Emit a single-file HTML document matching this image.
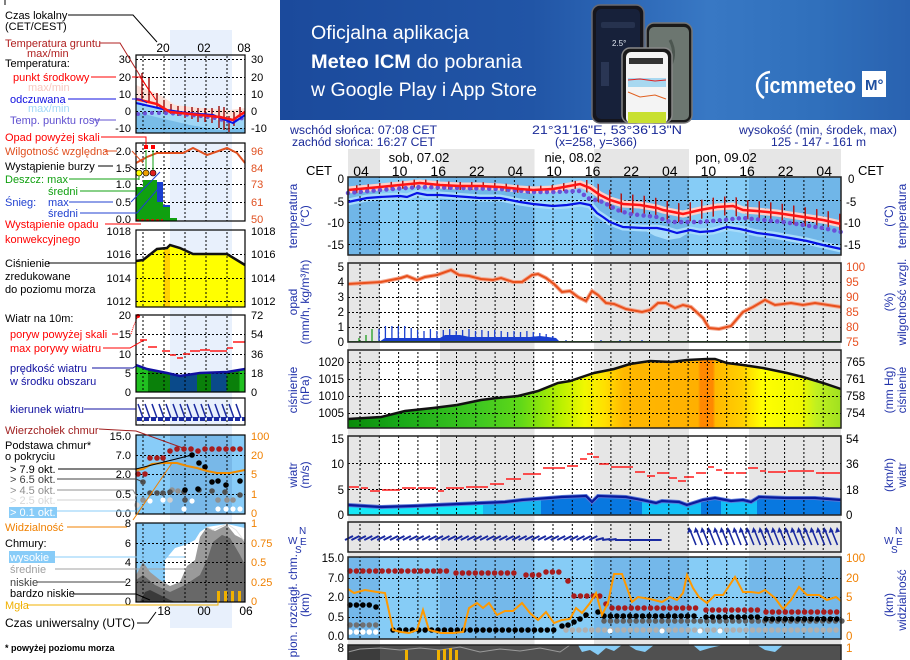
<!DOCTYPE html>
<html><head><meta charset="utf-8"><style>
html,body{margin:0;padding:0;background:#fff;}
svg{display:block;font-family:"Liberation Sans",Arial,sans-serif;}
</style></head><body>
<svg width="910" height="660" viewBox="0 0 910 660" xmlns="http://www.w3.org/2000/svg">
<defs>
<linearGradient id="ban" x1="0" x2="1" y1="0" y2="0">
<stop offset="0" stop-color="#1b4a9c"/><stop offset="0.4" stop-color="#2155a6"/><stop offset="0.68" stop-color="#3878c4"/><stop offset="0.85" stop-color="#3070bc"/><stop offset="1" stop-color="#2962b0"/>
</linearGradient>
<pattern id="vg" x="359.5" y="0" width="19.3" height="4" patternUnits="userSpaceOnUse"><rect width="1" height="2" fill="#000"/></pattern>
<pattern id="vgm" x="142.5" y="0" width="21" height="4" patternUnits="userSpaceOnUse"><rect width="1" height="2" fill="#000"/></pattern>
<pattern id="gt" x="356" y="0" width="11.5" height="10" patternUnits="userSpaceOnUse"><rect width="1.5" height="10" fill="#b01818"/></pattern>
<linearGradient id="pg" gradientUnits="userSpaceOnUse" x1="348" x2="841" y1="0" y2="0">
<stop offset="0" stop-color="#0a8a0a"/><stop offset="0.1" stop-color="#18a818"/><stop offset="0.27" stop-color="#40c820"/><stop offset="0.35" stop-color="#60d818"/><stop offset="0.43" stop-color="#b8f000"/><stop offset="0.48" stop-color="#f0f800"/><stop offset="0.52" stop-color="#ffe000"/><stop offset="0.56" stop-color="#ffb800"/><stop offset="0.71" stop-color="#ffb000"/><stop offset="0.715" stop-color="#ff8800"/><stop offset="0.74" stop-color="#ff8800"/><stop offset="0.745" stop-color="#ffb800"/><stop offset="0.8" stop-color="#ffd000"/><stop offset="0.84" stop-color="#ffff00"/><stop offset="0.92" stop-color="#f0f800"/><stop offset="0.95" stop-color="#c0f020"/><stop offset="1" stop-color="#a0e020"/>
</linearGradient>
<linearGradient id="wg" gradientUnits="userSpaceOnUse" x1="348" x2="841" y1="0" y2="0">
<stop offset="0" stop-color="#16e8f6"/><stop offset="0.274" stop-color="#16e8f6"/>
<stop offset="0.274" stop-color="#18b4ee"/><stop offset="0.391" stop-color="#18b4ee"/>
<stop offset="0.391" stop-color="#0878e0"/><stop offset="0.596" stop-color="#0878e0"/>
<stop offset="0.596" stop-color="#12c0f6"/><stop offset="0.716" stop-color="#12c0f6"/>
<stop offset="0.716" stop-color="#0878e0"/><stop offset="0.757" stop-color="#0878e0"/>
<stop offset="0.757" stop-color="#12c0f6"/><stop offset="0.83" stop-color="#12c0f6"/>
<stop offset="0.83" stop-color="#0878e0"/><stop offset="1" stop-color="#0878e0"/>
</linearGradient>
<linearGradient id="mwg" gradientUnits="userSpaceOnUse" x1="136" x2="245" y1="0" y2="0">
<stop offset="0" stop-color="#20c020"/><stop offset="0.11" stop-color="#20c020"/>
<stop offset="0.11" stop-color="#0a800a"/><stop offset="0.31" stop-color="#0a800a"/>
<stop offset="0.31" stop-color="#0a4a8a"/><stop offset="0.56" stop-color="#0a4a8a"/>
<stop offset="0.56" stop-color="#0a800a"/><stop offset="0.69" stop-color="#0a800a"/>
<stop offset="0.69" stop-color="#0a4a8a"/><stop offset="0.83" stop-color="#0a4a8a"/>
<stop offset="0.83" stop-color="#0a800a"/><stop offset="0.95" stop-color="#0a800a"/>
<stop offset="0.95" stop-color="#20c020"/><stop offset="1" stop-color="#20c020"/>
</linearGradient>
</defs>

<rect width="910" height="660" fill="#fff"/>

<!-- ===== BANNER ===== -->
<rect x="280" y="0" width="630" height="120" fill="url(#ban)"/>
<text x="311" y="39" font-size="19" fill="#fff" textLength="158" lengthAdjust="spacingAndGlyphs">Oficjalna aplikacja</text>
<text x="311" y="68" font-size="19" fill="#fff" textLength="211" lengthAdjust="spacingAndGlyphs"><tspan font-weight="bold">Meteo ICM</tspan> do pobrania</text>
<text x="311" y="96" font-size="19" fill="#fff" textLength="226" lengthAdjust="spacingAndGlyphs">w Google Play i App Store</text>
<rect x="592" y="5" width="52" height="118" rx="8" fill="#15151c" stroke="#6a6a70" stroke-width="1.5"/>
<rect x="596" y="9" width="44" height="110" rx="5" fill="#17213a"/>
<rect x="601" y="22" width="34" height="6" rx="2" fill="#26324e"/>
<text x="612" y="46" font-size="8" fill="#dfe6f0">2.5°</text>
<rect x="601" y="62" width="8" height="24" fill="#2a3654"/>
<rect x="646" y="23" width="46" height="100" rx="8" fill="#1a1a1a" stroke="#777" stroke-width="1.5"/>
<rect x="649" y="27" width="40" height="93" rx="5" fill="#6c7670"/>
<path d="M652,60 q10,10 5,25 t12,20 M670,40 q8,15 -2,30" stroke="#4c5650" stroke-width="3" fill="none"/>
<rect x="622" y="48" width="50" height="75" rx="8" fill="#1a1a1a" stroke="#888" stroke-width="1.5"/>
<rect x="626" y="52" width="42" height="71" rx="5" fill="#f4f4f4"/>
<rect x="629" y="58" width="34" height="6" fill="#333"/>
<rect x="628" y="78" width="38" height="9" fill="#a8d8f0"/>
<path d="M628,80 L640,79 L655,81 L666,80" stroke="#e02020" stroke-width="1" fill="none"/>
<path d="M628,92 L640,97 L655,95 L666,99" stroke="#e06020" stroke-width="1" fill="none"/>
<rect x="628" y="112" width="38" height="11" fill="#c8e030"/>
<path d="M764,98 a14,14 0 0 1 6,-26" stroke="#fff" stroke-width="2.5" fill="none"/>
<text x="764" y="93" font-size="22" font-weight="bold" fill="#fff" textLength="92" lengthAdjust="spacingAndGlyphs">icmmeteo</text>
<rect x="862" y="71" width="24" height="26" fill="#fff"/>
<text x="865" y="90" font-size="15" font-weight="bold" fill="#1e4fa0">M°</text>

<!-- ===== MAIN HEADER ===== -->
<g font-size="11.5" fill="#1a2a98">
<text x="290" y="134" textLength="147" lengthAdjust="spacingAndGlyphs">wschód słońca: 07:08 CET</text>
<text x="292" y="146" textLength="143" lengthAdjust="spacingAndGlyphs">zachód słońca: 16:27 CET</text>
<text x="532" y="134" textLength="150" lengthAdjust="spacingAndGlyphs">21°31'16"E, 53°36'13"N</text>
<text x="555" y="146" textLength="82" lengthAdjust="spacingAndGlyphs">(x=258,  y=366)</text>
<text x="739" y="134" textLength="158" lengthAdjust="spacingAndGlyphs">wysokość (min, środek, max)</text>
<text x="771" y="146" textLength="95" lengthAdjust="spacingAndGlyphs">125 - 147 - 161 m</text>
</g>

<!-- night shading columns -->
<g fill="#e6e6e6">
<rect x="348" y="149" width="32" height="511"/>
<rect x="440" y="149" width="94.5" height="511"/>
<rect x="594" y="149" width="95" height="511"/>
<rect x="749" y="149" width="92" height="511"/>
</g>

<g font-size="13" fill="#000">
<text x="419" y="162" text-anchor="middle">sob, 07.02</text>
<text x="573" y="162" text-anchor="middle">nie, 08.02</text>
<text x="726" y="162" text-anchor="middle">pon, 09.02</text>
<text x="306" y="175">CET</text>
<text x="858" y="175">CET</text>
</g>
<g font-size="14" fill="#000" text-anchor="middle">
<text x="361" y="176">04</text><text x="399.6" y="176">10</text><text x="438.2" y="176">16</text><text x="476.8" y="176">22</text><text x="515.4" y="176">04</text><text x="554" y="176">10</text><text x="592.6" y="176">16</text><text x="631.2" y="176">22</text><text x="669.8" y="176">04</text><text x="708.4" y="176">10</text><text x="747" y="176">16</text><text x="785.6" y="176">22</text><text x="824.2" y="176">04</text>
</g>

<!-- ===== TEMPERATURE PANEL ===== -->
<rect x="348" y="177" width="493" height="78" fill="#86ccf6"/>
<g fill="#70b6e8">
<rect x="348" y="177" width="32" height="78"/><rect x="440" y="177" width="94.5" height="78"/><rect x="594" y="177" width="95" height="78"/><rect x="749" y="177" width="92" height="78"/>
</g>
<polyline fill="none" stroke="#a8dcfa" stroke-width="7" points="348,202 367,198 380,197 400,196 407,197 417,193 427,195 440,195 467,197 480,198 500,198 520,202 533,204 553,206 567,205 580,203 590,205 597,213 603,217 610,222 623,227 643,228 657,228 667,230 677,233 690,230 700,232 713,231 727,227 740,229 757,233 773,235 790,238 807,241 823,245 841,249"/>
<path d="M640,228 L655,236 L668,240 L680,238 L690,232 Z" fill="#a8dcfa"/>
<rect x="348" y="177" width="493" height="78" fill="url(#vg)"/>
<g stroke="#000" stroke-width="1" stroke-dasharray="2 2"><line x1="348" x2="841" y1="200.5" y2="200.5"/><line x1="348" x2="841" y1="222.5" y2="222.5"/><line x1="348" x2="841" y1="244.5" y2="244.5"/></g>
<polyline fill="none" stroke="#ffcfc8" stroke-width="7" points="348,190 380,187 400,185 420,183 440,185 460,186 480,186 500,187 520,189 533,190 553,189 580,184 590,188 600,195 610,200 623,204 640,205 657,208 663,210 673,212 683,214 700,210 717,207 733,206 743,210 757,211 777,213 797,216 823,220 841,224"/>
<polygon fill="url(#gt)" points="348,186 380,183 400,181 420,179 440,181 460,182 480,182 500,183 520,185 533,186 553,185 580,180 592,180 600,185 610,190 623,194 640,195 657,198 663,200 673,202 683,204 700,200 717,197 733,196 743,200 757,201 777,203 797,206 823,210 841,214 841,233 823,229 797,225 777,222 757,220 743,219 733,215 717,216 700,219 683,223 673,221 663,219 657,217 640,214 623,213 610,209 600,204 592,196 580,188 553,193 533,194 520,193 500,191 480,190 460,190 440,189 420,187 400,189 380,191 348,194"/>
<polyline fill="none" stroke="#6a50d8" stroke-width="4.5" stroke-linecap="round" stroke-dasharray="0 6.43" points="348,193 380,190 420,187 460,188 500,189 533,192 553,192 580,191 587,198 603,202 617,210 630,214 657,217 670,222 683,222 700,222 723,220 743,218 763,220 783,222 803,225 823,228 841,232"/>
<polyline fill="none" stroke="#0814e6" stroke-width="2.2" points="348,202 367,198 380,197 400,196 407,197 417,193 427,195 440,195 467,197 480,198 500,198 520,202 533,204 553,206 567,205 580,203 590,205 597,213 603,217 610,222 623,227 643,228 657,228 667,230 677,233 690,230 700,232 713,231 727,227 740,229 757,233 773,235 790,238 807,241 823,245 841,249"/>
<polyline fill="none" stroke="#ff1414" stroke-width="2.5" points="348,190 380,187 400,185 420,183 440,185 460,186 480,186 500,187 520,189 533,190 553,189 580,184 590,188 600,195 610,200 623,204 640,205 657,208 663,210 673,212 683,214 700,210 717,207 733,206 743,210 757,211 777,213 797,216 823,220 841,224"/>
<rect x="348" y="177" width="493" height="78" fill="none" stroke="#222" stroke-width="1.5"/>

<!-- ===== PRECIP PANEL ===== -->
<rect x="348" y="263" width="493" height="79" fill="url(#vg)"/>
<g stroke="#000" stroke-width="1" stroke-dasharray="2 2"><line x1="348" x2="841" y1="282.5" y2="282.5"/><line x1="348" x2="841" y1="297.5" y2="297.5"/><line x1="348" x2="841" y1="312.5" y2="312.5"/><line x1="348" x2="841" y1="327.5" y2="327.5"/></g>
<polygon fill="#1a3fd0" points="379,342 385,338 440,338 445,335 460,335 470,337 530,337 540,336 556,338 560,342"/>
<path stroke="#1a3fd0" stroke-width="1.3" d="M379,342V329M385.4,342V326M391.9,342V326M398.3,342V326M404.7,342V326M411.2,342V328M417.6,342V330M424,342V331M430.4,342V329M436.9,342V331M443.3,342V330M449.7,342V329M456.2,342V331M462.6,342V330M469,342V329M475.5,342V331M481.9,342V330M488.3,342V331M494.7,342V330M501.2,342V331M507.6,342V332M514,342V331M520.5,342V332M526.9,342V331M533.3,342V332M539.8,342V333M546.2,342V334M552.6,342V336M566,342V340M601,342V340M620,342V340M642,342V340"/>
<path stroke="#20a020" stroke-width="1.3" d="M359,342V338M366,342V335M372,342V329"/>
<line x1="348" x2="841" y1="341.5" y2="341.5" stroke="#2a8a2a" stroke-width="1"/>
<polyline fill="none" stroke="#f4a890" stroke-width="4" points="348,284 381,282 401,278 407,276 417,280 425,277 437,275 451,270 459,275 469,276 481,279 493,280 501,278 513,282 522,282 532,275 538,274 546,278 554,284 562,292 570,291 578,297 586,301 592,291 598,295 606,303 614,304 626,309 642,312 650,310 658,303 666,303 675,308 683,305 691,307 703,318 709,328 719,329 731,326 743,312 753,307 765,300 775,305 791,303 803,305 815,303 841,307"/>
<polyline fill="none" stroke="#e8501c" stroke-width="2" points="348,284 381,282 401,278 407,276 417,280 425,277 437,275 451,270 459,275 469,276 481,279 493,280 501,278 513,282 522,282 532,275 538,274 546,278 554,284 562,292 570,291 578,297 586,301 592,291 598,295 606,303 614,304 626,309 642,312 650,310 658,303 666,303 675,308 683,305 691,307 703,318 709,328 719,329 731,326 743,312 753,307 765,300 775,305 791,303 803,305 815,303 841,307"/>
<rect x="348" y="263" width="493" height="79" fill="none" stroke="#222" stroke-width="1.5"/>

<!-- ===== PRESSURE PANEL ===== -->
<polygon fill="url(#pg)" points="348,419 381,417 405,411 433,408 457,405 481,400 497,398 518,396 538,391 558,383 570,381 594,373 614,369 630,364 650,361 671,362 687,360 707,359 715,359 727,363 743,365 763,368 787,373 803,377 823,383 841,389 841,428 348,428"/>
<rect x="348" y="350" width="493" height="78" fill="url(#vg)"/>
<g stroke="#000" stroke-width="1" stroke-dasharray="2 2"><line x1="348" x2="841" y1="362.5" y2="362.5"/><line x1="348" x2="841" y1="379.5" y2="379.5"/><line x1="348" x2="841" y1="396.5" y2="396.5"/><line x1="348" x2="841" y1="413.5" y2="413.5"/></g>
<polyline fill="none" stroke="#111" stroke-width="2.5" points="348,419 381,417 405,411 433,408 457,405 481,400 497,398 518,396 538,391 558,383 570,381 594,373 614,369 630,364 650,361 671,362 687,360 707,359 715,359 727,363 743,365 763,368 787,373 803,377 823,383 841,389"/>
<rect x="348" y="350" width="493" height="78" fill="none" stroke="#222" stroke-width="1.5"/>

<!-- ===== WIND PANEL ===== -->
<polygon fill="url(#wg)" points="348,505 381,507 413,506 481,503 505,502 522,500 562,497 586,496 592,502 598,496 626,497 642,500 656,503 662,501 679,502 687,505 703,500 715,498 731,501 743,500 751,502 759,497 787,498 815,498 841,500 841,515 348,515"/>
<rect x="348" y="436" width="493" height="79" fill="url(#vg)"/>
<g stroke="#000" stroke-width="1" stroke-dasharray="2 2"><line x1="348" x2="841" y1="463.5" y2="463.5"/><line x1="348" x2="841" y1="489.5" y2="489.5"/></g>
<polyline fill="none" stroke="#5a78d8" stroke-width="4" points="348,505 381,507 413,506 481,503 505,502 522,500 562,497 586,496 592,502 598,496 626,497 642,500 656,503 662,501 679,502 687,505 703,500 715,498 731,501 743,500 751,502 759,497 787,498 815,498 841,500"/>
<polyline fill="none" stroke="#0a1a9a" stroke-width="2.2" points="348,505 381,507 413,506 481,503 505,502 522,500 562,497 586,496 592,502 598,496 626,497 642,500 656,503 662,501 679,502 687,505 703,500 715,498 731,501 743,500 751,502 759,497 787,498 815,498 841,500"/>
<path fill="none" stroke="#ff1a1a" stroke-width="1.6" d="M349,487H359M361,488H368M370,491H380M382,490H400M402,488H416M418,488H436M438,491H444M446,488H464M466,487H488M490,484H504M506,479H521M523,474H541M543,468H565M567,466H578M580,459H587M587,454H593M593,457H599M599,464H609M611,467H633M635,472H645M647,476H655M657,473H669M669,478H677M678,481H686M684,477H694M696,473H706M708,467H714M716,470H722M724,473H734M736,473H746M748,468H758M760,471H766M768,472H786M788,471H814M816,473H840"/>
<rect x="348" y="436" width="493" height="79" fill="none" stroke="#222" stroke-width="1.5"/>

<!-- ===== WIND DIRECTION ===== -->
<rect x="348" y="522" width="493" height="30" fill="url(#vg)"/>
<path fill="none" stroke="#1a2aa0" stroke-width="2" d="M345,540 l8,-4 m-1.57,4 l8,-4 m-1.57,4 l8,-4 m-1.57,4 l8,-4 m-1.57,4 l8,-4 m-1.57,4 l8,-4 m-1.57,4 l8,-4 m-1.57,4 l8,-4 m-1.57,4 l8,-4 m-1.57,4 l8,-4 m-1.57,4 l8,-4 m-1.57,4 l8,-4 m-1.57,4 l8,-4 m-1.57,4 l8,-4 m-1.57,4 l8,-4 m-1.57,4 l8,-4 m-1.57,4 l8,-4 m-1.57,4 l8,-4 m-1.57,4 l8,-4 m-1.57,4 l8,-4 m-1.57,4 l8,-4 m-1.57,4 l8,-4 m-1.57,4 l8,-4 m-1.57,4 l8,-4 m-1.57,4 l8,-4 m-1.57,4 l8,-4 m-1.57,4 l8,-4 m-1.57,4 l8,-4 m-1.57,4 l8,-4 m-1.57,4 l8,-4 m-1.57,4 l8,-4 m-1.57,4 l8,-4 m-1.57,4 l8,-4 m-1.57,4 l8,-4 m-1.57,4 l8,-4 m-1.57,4 l8,-4 m-1.57,4 l8,-4 m-1.57,4 l8,-4 m-1.57,4 l8,-4 m-1.57,4 l8,-2 m-1.57,2 l8,-1 m-1.57,1 l8,-1 m-1.57,1 l8,0 m-1.57,0 l8,0 m-1.57,0 l8,0 m-1.57,0 l8,0 m-1.57,0 l8,0 m-1.57,0 l8,0 m-1.57,0 l8,0"/>
<path fill="none" stroke="#1a2aa0" stroke-width="1.6" d="M690,530 l6,15 m0.43,-15 l6,15 m0.43,-15 l6,15 m0.43,-15 l6,15 m0.43,-15 l6,15 m0.43,-15 l6,15 m0.43,-15 l6,15 m0.43,-15 l6,15 m0.43,-15 l6,15 m0.43,-15 l6,15 m0.43,-15 l6,15 m0.43,-15 l6,15 m0.43,-15 l6,15 m0.43,-15 l6,15 m0.43,-15 l6,15 m0.43,-15 l6,15 m0.43,-15 l6,15 m0.43,-15 l6,15 m0.43,-15 l6,15 m0.43,-15 l6,15 m0.43,-15 l6,15 m0.43,-15 l6,15 m0.43,-15 l6,15"/>
<path fill="#1a2aa0" d="M689,527 l-1.8,6 l5,-1.5 z m6.43,0 l-1.8,6 l5,-1.5 z m6.43,0 l-1.8,6 l5,-1.5 z m6.43,0 l-1.8,6 l5,-1.5 z m6.43,0 l-1.8,6 l5,-1.5 z m6.43,0 l-1.8,6 l5,-1.5 z m6.43,0 l-1.8,6 l5,-1.5 z m6.43,0 l-1.8,6 l5,-1.5 z m6.43,0 l-1.8,6 l5,-1.5 z m6.43,0 l-1.8,6 l5,-1.5 z m6.43,0 l-1.8,6 l5,-1.5 z m6.43,0 l-1.8,6 l5,-1.5 z m6.43,0 l-1.8,6 l5,-1.5 z m6.43,0 l-1.8,6 l5,-1.5 z m6.43,0 l-1.8,6 l5,-1.5 z m6.43,0 l-1.8,6 l5,-1.5 z m6.43,0 l-1.8,6 l5,-1.5 z m6.43,0 l-1.8,6 l5,-1.5 z m6.43,0 l-1.8,6 l5,-1.5 z m6.43,0 l-1.8,6 l5,-1.5 z m6.43,0 l-1.8,6 l5,-1.5 z m6.43,0 l-1.8,6 l5,-1.5 z m6.43,0 l-1.8,6 l5,-1.5 z m6.43,0 l-1.8,6 l5,-1.5 z"/>
<rect x="348" y="522" width="493" height="30" fill="none" stroke="#222" stroke-width="1.5"/>

<!-- ===== CLOUD HEIGHT PANEL ===== -->
<rect x="348" y="557" width="493" height="82" fill="#86ccf6"/>
<g fill="#74b8ea">
<rect x="348" y="557" width="32" height="82"/><rect x="440" y="557" width="94.5" height="82"/><rect x="594" y="557" width="95" height="82"/><rect x="749" y="557" width="92" height="82"/>
</g>
<rect x="348" y="557" width="493" height="82" fill="url(#vg)"/>
<g stroke="#000" stroke-width="1" stroke-dasharray="2 2"><line x1="348" x2="841" y1="578.5" y2="578.5"/><line x1="348" x2="841" y1="597.5" y2="597.5"/><line x1="348" x2="841" y1="617.5" y2="617.5"/></g>
<g fill="none" stroke-linecap="round" stroke-width="5.5" stroke-dasharray="0 6.43">
<line x1="566" x2="842" y1="630" y2="630" stroke="#b0b0b0"/>
<line x1="350" x2="380" y1="632" y2="632" stroke="#ffffff"/>
<line x1="350" x2="380" y1="625" y2="625" stroke="#707070"/>
<line x1="604" x2="842" y1="621" y2="621" stroke="#606060"/>
<line x1="350" x2="371" y1="605" y2="605" stroke="#000"/>
<line x1="393" x2="560" y1="630" y2="630" stroke="#000"/>
<line x1="604" x2="700" y1="616" y2="616" stroke="#000"/>
<line x1="706" x2="760" y1="617" y2="617" stroke="#000"/>
<line x1="766" x2="842" y1="619" y2="619" stroke="#000"/>
<line x1="350" x2="450" y1="571" y2="571" stroke="#a81c1c"/>
<line x1="456" x2="520" y1="573" y2="573" stroke="#a81c1c"/>
<line x1="526" x2="540" y1="575" y2="575" stroke="#a81c1c"/>
<line x1="546" x2="562" y1="572" y2="572" stroke="#a81c1c"/>
<line x1="574" x2="600" y1="596" y2="596" stroke="#a81c1c"/>
<line x1="612" x2="700" y1="608" y2="608" stroke="#a81c1c"/>
<line x1="706" x2="760" y1="610" y2="610" stroke="#a81c1c"/>
<line x1="766" x2="842" y1="612" y2="612" stroke="#a81c1c"/>
</g>
<g fill="#000"><circle cx="376" cy="607" r="2.8"/><circle cx="562" cy="626" r="2.8"/><circle cx="568" cy="625" r="2.8"/><circle cx="574" cy="622" r="2.8"/><circle cx="580" cy="619" r="2.8"/><circle cx="586" cy="615" r="2.8"/><circle cx="598" cy="612" r="2.8"/></g>
<g fill="#a81c1c"><circle cx="568" cy="581" r="2.8"/><circle cx="606" cy="604" r="2.8"/></g>
<g fill="#fff"><circle cx="610" cy="631" r="2.5"/><circle cx="662" cy="631" r="2.5"/><circle cx="700" cy="631" r="2.5"/><circle cx="720" cy="631" r="2.5"/></g>
<polyline fill="none" stroke="#ff9900" stroke-width="2" points="348,589 354,593 365,590 377,592 385,593 393,630 401,632 409,633 417,630 423,610 429,630 441,633 453,633 463,632 469,608 477,603 483,608 489,603 497,615 505,611 513,611 522,603 530,613 538,620 546,612 554,623 562,620 570,619 576,608 582,613 590,603 596,593 602,615 608,603 614,574 622,574 632,602 638,597 650,599 662,602 670,597 677,600 683,593 687,575 693,588 699,597 707,603 715,595 723,595 735,577 743,592 751,592 759,593 765,590 775,598 783,609 791,600 799,587 807,595 819,595 827,600 836,597 841,601"/>
<rect x="348" y="557" width="493" height="82" fill="none" stroke="#222" stroke-width="1.5"/>

<!-- ===== CLOUDS PANEL (cut) ===== -->
<rect x="348" y="645" width="493" height="15" fill="#505050"/>
<rect x="348" y="645" width="32" height="15" fill="#3c3c3c"/>
<g fill="#86ccf6">
<polygon points="578,645 582,652 590,650 598,655 606,648 614,651 622,645"/>
<polygon points="628,645 636,650 645,652 654,645"/>
<polygon points="693,645 700,651 710,648 723,645"/>
<polygon points="757,645 765,650 775,652 783,645"/>
</g>
<polyline fill="none" stroke="#9a9a9a" stroke-width="1" points="348,652 360,649 380,648 400,650 420,648 440,650 460,647 480,652 500,649 520,651 540,648 560,652 570,645"/>
<g fill="#f0b000"><rect x="405" y="650" width="3" height="10"/><rect x="437" y="650" width="3" height="10"/><rect x="443" y="649" width="3" height="11"/><rect x="449" y="648" width="3" height="12"/><rect x="455" y="650" width="3" height="10"/></g>
<rect x="348" y="645" width="493" height="20" fill="none" stroke="#222" stroke-width="1.5"/>

<!-- ===== MAIN AXIS LABELS ===== -->
<g font-size="11.5" fill="#000" text-anchor="end">
<text x="344" y="183">0</text><text x="344" y="206">-5</text><text x="344" y="227">-10</text><text x="344" y="249">-15</text>
<text x="344" y="271">5</text><text x="344" y="286">4</text><text x="344" y="301">3</text><text x="344" y="316">2</text><text x="344" y="331">1</text><text x="344" y="346">0</text>
<text x="344" y="366">1020</text><text x="344" y="383">1015</text><text x="344" y="400">1010</text><text x="344" y="417">1005</text>
<text x="344" y="443">15</text><text x="344" y="468">10</text><text x="344" y="494">5</text><text x="344" y="519">0</text>
<text x="344" y="562">15.0</text><text x="344" y="582">7.0</text><text x="344" y="601">2.0</text><text x="344" y="621">0.5</text><text x="344" y="640">0.0</text>
<text x="344" y="652">8</text>
</g>
<g font-size="11.5" fill="#000">
<text x="848" y="183">0</text><text x="846" y="206">-5</text><text x="844" y="227">-10</text><text x="844" y="249">-15</text>
<text x="846" y="366">765</text><text x="846" y="383">761</text><text x="846" y="400">758</text><text x="846" y="417">754</text>
<text x="846" y="443">54</text><text x="846" y="468">36</text><text x="846" y="494">18</text><text x="846" y="519">0</text>
</g>
<g font-size="11.5" fill="#e85020">
<text x="846" y="271">100</text><text x="846" y="286">95</text><text x="846" y="301">90</text><text x="846" y="316">85</text><text x="846" y="331">80</text><text x="846" y="346">75</text>
</g>
<g font-size="11.5" fill="#f08000">
<text x="846" y="562">100</text><text x="846" y="582">20</text><text x="846" y="601">5</text><text x="846" y="621">1</text><text x="846" y="640">0</text><text x="846" y="652">1</text>
</g>

<!-- rotated titles -->
<g font-size="12" fill="#2233aa" text-anchor="middle">
<text transform="translate(297,216) rotate(-90)">temperatura</text>
<text transform="translate(309,216) rotate(-90)">(°C)</text>
<text transform="translate(893,216) rotate(-90)">(°C)</text>
<text transform="translate(906,216) rotate(-90)">temperatura</text>
<text transform="translate(297,302) rotate(-90)">opad</text>
<text transform="translate(309,302) rotate(-90)">(mm/h, kg/m³/h)</text>
<text transform="translate(893,302) rotate(-90)">(%)</text>
<text transform="translate(906,302) rotate(-90)">wilgotność wzgl.</text>
<text transform="translate(297,390) rotate(-90)">ciśnienie</text>
<text transform="translate(309,390) rotate(-90)">(hPa)</text>
<text transform="translate(893,390) rotate(-90)">(mm Hg)</text>
<text transform="translate(906,390) rotate(-90)">ciśnienie</text>
<text transform="translate(297,475) rotate(-90)">wiatr</text>
<text transform="translate(309,475) rotate(-90)">(m/s)</text>
<text transform="translate(893,475) rotate(-90)">(km/h)</text>
<text transform="translate(906,475) rotate(-90)">wiatr</text>
<text transform="translate(309,605) rotate(-90)">(km)</text>
<text transform="translate(893,605) rotate(-90)">(km)</text>
<text transform="translate(906,600) rotate(-90)">widzialność</text>
<text transform="translate(297,554) rotate(-90)" text-anchor="end">e pion. rozciągł. chm.</text>
</g>
<g font-size="10" fill="#2233aa">
<text x="288" y="544">W</text><text x="299" y="534">N</text><text x="300" y="545">E</text><text x="295" y="553">S</text>
<text x="884" y="544">W</text><text x="895" y="534">N</text><text x="896" y="545">E</text><text x="891" y="553">S</text>
</g>

<!-- ===== LEGEND COLUMN ===== -->
<line x1="5" y1="0" x2="5" y2="5" stroke="#000"/>
<rect x="170" y="30" width="62" height="598" fill="#e8f0fc"/>

<!-- mini temp -->
<polygon fill="#fde0d8" points="136,85 160,95 175,105 200,108 230,110 245,108 245,115 233,120 200,117 170,113 136,100"/>
<polygon fill="#9ed6f6" points="136,100 170,113 200,117 233,123 245,115 245,133 136,133"/>
<polygon fill="#78bce8" points="136,112 160,118 190,125 220,130 245,128 245,133 136,133"/>
<rect x="136" y="55" width="109" height="78" fill="url(#vgm)"/>
<g stroke="#000" stroke-width="1" stroke-dasharray="2 2"><line x1="136" x2="245" y1="59.5" y2="59.5"/><line x1="136" x2="245" y1="77.5" y2="77.5"/><line x1="136" x2="245" y1="94.5" y2="94.5"/><line x1="136" x2="245" y1="111.5" y2="111.5"/><line x1="136" x2="245" y1="128.5" y2="128.5"/></g>
<path stroke="#a01818" stroke-width="1.5" d="M142,73V100M149,78V103M157,93V107M164,100V112M171,104V114M178,106V116M185,106V118M192,107V119M198,108V122M205,108V122M212,108V123M219,106V128M224,107V130M229,116V132M234,112V126M240,107V117"/>
<polyline fill="none" stroke="#6a50d8" stroke-width="4" stroke-linecap="round" stroke-dasharray="0 7" points="138,114 150,113 165,113 180,114 200,116 215,118 230,122 240,119 245,117"/>
<polyline fill="none" stroke="#0814e6" stroke-width="2" points="136,103 167,110 187,113 213,115 233,123 245,115"/>
<polyline fill="none" stroke="#ff1414" stroke-width="2.5" points="136,99 157,104 170,112 200,115 220,117 233,120 240,115 245,112"/>
<rect x="136" y="55" width="109" height="78" fill="none" stroke="#000" stroke-width="1.2"/>

<!-- mini precip -->
<rect x="136" y="143" width="109" height="78" fill="url(#vgm)"/>
<g stroke="#000" stroke-width="1" stroke-dasharray="2 2"><line x1="136" x2="245" y1="151.5" y2="151.5"/><line x1="136" x2="245" y1="168.5" y2="168.5"/><line x1="136" x2="245" y1="184.5" y2="184.5"/><line x1="136" x2="245" y1="202.5" y2="202.5"/></g>
<g fill="#10a010"><rect x="136" y="187" width="7" height="34"/><rect x="143" y="180" width="14" height="41"/><rect x="157" y="202" width="6" height="19"/><rect x="163" y="207" width="7" height="14"/><rect x="170" y="218" width="7" height="3"/></g>
<g fill="#1a3fd0"><rect x="157" y="182" width="6" height="20"/><rect x="163" y="205" width="7" height="2"/></g>
<line x1="136" x2="163" y1="220" y2="220" stroke="#ff0000" stroke-width="1.5" stroke-dasharray="3 2"/>
<polyline fill="none" stroke="#e05020" stroke-width="2" points="136,163 147,157 157,153 183,153 193,148 207,155 227,148 237,153 245,163"/>
<path stroke="#10a010" stroke-width="1" d="M146,150V173M153,150V173M139,173V180"/>
<g fill="#ff0000"><rect x="144" y="145" width="4" height="4"/><rect x="151" y="145" width="4" height="4"/></g>
<circle cx="139" cy="173" r="3" fill="#ffff00" stroke="#000" stroke-width="0.6"/>
<circle cx="146" cy="173" r="3" fill="#f0a000" stroke="#000" stroke-width="0.6"/>
<circle cx="153" cy="173" r="3" fill="#e02020" stroke="#000" stroke-width="0.6"/>
<rect x="136" y="143" width="109" height="78" fill="none" stroke="#000" stroke-width="1.2"/>

<!-- mini pressure -->
<polygon fill="#ffff00" points="136,261 143,260 157,249 167,248 170,245 180,248 193,254 227,254 245,265 245,307 136,307"/>
<rect x="164" y="249" width="6" height="58" fill="#ffd200"/>
<rect x="136" y="230" width="109" height="77" fill="url(#vgm)"/>
<g stroke="#000" stroke-width="1" stroke-dasharray="2 2"><line x1="136" x2="245" y1="254.5" y2="254.5"/><line x1="136" x2="245" y1="278.5" y2="278.5"/><line x1="136" x2="245" y1="301.5" y2="301.5"/></g>
<polyline fill="none" stroke="#111" stroke-width="2.5" points="136,261 143,260 157,249 167,248 170,245 180,248 193,254 227,254 245,265"/>
<rect x="136" y="230" width="109" height="77" fill="none" stroke="#000" stroke-width="1.2"/>

<!-- mini wind -->
<polygon fill="url(#mwg)" points="136,365 147,369 167,373 180,376 200,373 227,372 245,369 245,392 136,392"/>
<rect x="136" y="315" width="109" height="77" fill="url(#vgm)"/>
<g stroke="#000" stroke-width="1" stroke-dasharray="2 2"><line x1="136" x2="245" y1="334.5" y2="334.5"/><line x1="136" x2="245" y1="354.5" y2="354.5"/><line x1="136" x2="245" y1="373.5" y2="373.5"/></g>
<polyline fill="none" stroke="#1010a0" stroke-width="2.5" points="136,365 147,369 167,373 180,376 200,373 227,372 245,369"/>
<path fill="none" stroke="#ff1a1a" stroke-width="1.5" d="M140,340H147M148,347H157M162,351H170M170,355H176M177,358H183M183,354H190M190,351H200M200,350H210M210,351H227M227,348H233M233,342H245"/>
<circle cx="138" cy="316" r="2" fill="#ff0000"/>
<path fill="none" stroke="#ff0000" stroke-width="1" stroke-dasharray="1 1" d="M131,334 L134,325 L138,316"/>
<rect x="136" y="315" width="109" height="77" fill="none" stroke="#000" stroke-width="1.2"/>

<!-- mini wind dir -->
<rect x="136" y="398" width="109" height="27" fill="url(#vgm)"/>
<path fill="none" stroke="#1a2aa0" stroke-width="1.5" d="M138,404 l5,14 m2,-14 l5,14 m2,-14 l5,14 m2,-14 l5,14 m2,-14 l5,14 m2,-14 l5,14 m2,-14 l5,14 m2,-14 l5,14 m2,-14 l5,14 m2,-14 l5,14 m2,-14 l5,14 m2,-14 l5,14 m2,-14 l5,14 m2,-14 l5,14 m2,-14 l5,14"/>
<line x1="137" x2="245" y1="419" y2="419" stroke="#1a2aa0" stroke-width="4" stroke-dasharray="5 2"/>
<rect x="136" y="398" width="109" height="27" fill="none" stroke="#000" stroke-width="1.2"/>

<!-- mini cloud height -->
<rect x="136" y="435" width="109" height="79" fill="#88ccf8"/>
<rect x="170" y="435" width="62" height="79" fill="#78b8e8"/>
<rect x="136" y="435" width="109" height="79" fill="url(#vgm)"/>
<g stroke="#000" stroke-width="1" stroke-dasharray="2 2"><line x1="136" x2="245" y1="455.5" y2="455.5"/><line x1="136" x2="245" y1="474.5" y2="474.5"/><line x1="136" x2="245" y1="494.5" y2="494.5"/></g>
<g fill="#d0d0d0"><circle cx="137" cy="505" r="2.8"/><circle cx="170" cy="500" r="2.8"/></g>
<g fill="#909090"><circle cx="143" cy="500" r="2.8"/><circle cx="172" cy="490" r="2.8"/><circle cx="178" cy="491" r="2.8"/><circle cx="218" cy="500" r="2.8"/><circle cx="227" cy="500" r="2.8"/><circle cx="233" cy="500" r="2.8"/></g>
<g fill="#fff"><circle cx="150" cy="501" r="2.6"/><circle cx="163" cy="500" r="2.6"/><circle cx="184" cy="509" r="2.6"/><circle cx="192" cy="501" r="2.6"/><circle cx="218" cy="509" r="2.6"/><circle cx="226" cy="509" r="2.6"/><circle cx="233" cy="509" r="2.6"/><circle cx="240" cy="509" r="2.6"/></g>
<g fill="#505050"><circle cx="143" cy="482" r="2.8"/><circle cx="150" cy="493" r="2.8"/><circle cx="157" cy="493" r="2.8"/><circle cx="163" cy="493" r="2.8"/><circle cx="170" cy="492" r="2.8"/><circle cx="184" cy="492" r="2.8"/><circle cx="199" cy="490" r="2.8"/><circle cx="212" cy="491" r="2.8"/><circle cx="225" cy="492" r="2.8"/><circle cx="240" cy="495" r="2.8"/><circle cx="185" cy="500" r="2.8"/></g>
<g fill="#000"><circle cx="192" cy="455" r="2.8"/><circle cx="199" cy="463" r="2.8"/><circle cx="205" cy="467" r="2.8"/><circle cx="212" cy="482" r="2.8"/><circle cx="218" cy="481" r="2.8"/><circle cx="226" cy="485" r="2.8"/><circle cx="240" cy="481" r="2.8"/><circle cx="185" cy="490" r="2.8"/><circle cx="198" cy="489" r="2.8"/></g>
<g fill="#a81c1c"><circle cx="138" cy="474" r="2.8"/><circle cx="145" cy="474" r="2.8"/><circle cx="150" cy="458" r="2.8"/><circle cx="157" cy="458" r="2.8"/><circle cx="163" cy="458" r="2.8"/><circle cx="170" cy="451" r="2.8"/><circle cx="177" cy="449" r="2.8"/><circle cx="184" cy="449" r="2.8"/><circle cx="191" cy="449" r="2.8"/><circle cx="198" cy="451" r="2.8"/><circle cx="205" cy="449" r="2.8"/><circle cx="212" cy="449" r="2.8"/><circle cx="219" cy="449" r="2.8"/><circle cx="226" cy="449" r="2.8"/><circle cx="233" cy="449" r="2.8"/><circle cx="240" cy="449" r="2.8"/></g>
<polyline fill="none" stroke="#f08c00" stroke-width="2" points="136,470 143,469 152,464 163,463 177,463 187,466 197,468 207,471 217,473 230,473 245,470"/>
<rect x="136" y="435" width="109" height="79" fill="none" stroke="#000" stroke-width="1.2"/>

<!-- mini clouds -->
<rect x="136" y="523" width="109" height="79" fill="#88ccf8"/>
<polygon fill="#ffffff" points="165,602 165,560 175,548 185,545 195,540 200,532 207,527 227,524 245,528 245,602"/>
<polygon fill="#9a9a9a" points="136,602 136,575 143,562 150,572 160,580 170,586 180,582 187,566 195,560 200,537 207,527 215,531 227,525 235,535 245,540 245,602"/>
<polygon fill="#686868" points="136,602 136,580 143,575 155,585 170,592 185,585 200,575 207,560 213,542 222,535 230,538 240,555 245,565 245,602"/>
<polygon fill="#3a3a3a" points="140,602 145,592 150,590 160,595 170,600 175,602"/>
<polyline fill="none" stroke="#e0e0e0" stroke-width="1" points="207,527 213,530 227,524 236,530 245,542"/>
<rect x="136" y="523" width="109" height="79" fill="url(#vgm)"/>
<g stroke="#000" stroke-width="1" stroke-dasharray="2 2"><line x1="136" x2="245" y1="543.5" y2="543.5"/><line x1="136" x2="245" y1="562.5" y2="562.5"/><line x1="136" x2="245" y1="582.5" y2="582.5"/></g>
<g fill="#f0b000"><rect x="217" y="591" width="3" height="11"/><rect x="224" y="591" width="3" height="11"/><rect x="231" y="591" width="3" height="11"/><rect x="238" y="591" width="3" height="11"/></g>
<rect x="136" y="523" width="109" height="79" fill="none" stroke="#000" stroke-width="1.2"/>

<!-- mini axis labels -->
<g font-size="11" fill="#000" text-anchor="end">
<text x="131" y="63">30</text><text x="131" y="81">20</text><text x="131" y="98">10</text><text x="131" y="115">0</text><text x="131" y="132">-10</text>
<text x="131" y="155">2.0</text><text x="131" y="172">1.5</text><text x="131" y="188">1.0</text><text x="131" y="206">0.5</text><text x="131" y="223">0.0</text>
<text x="131" y="235">1018</text><text x="131" y="258">1016</text><text x="131" y="282">1014</text><text x="131" y="305">1012</text>
<text x="131" y="319">20</text><text x="131" y="338">15</text><text x="131" y="358">10</text><text x="131" y="377">5</text><text x="131" y="396">0</text>
<text x="131" y="440">15.0</text><text x="131" y="459">7.0</text><text x="131" y="478">2.0</text><text x="131" y="498">0.5</text><text x="131" y="517">0.0</text>
<text x="131" y="527">8</text><text x="131" y="547">6</text><text x="131" y="566">4</text><text x="131" y="586">2</text><text x="131" y="605">0</text>
</g>
<g font-size="11" fill="#000">
<text x="251" y="63">30</text><text x="251" y="81">20</text><text x="251" y="98">10</text><text x="251" y="115">0</text><text x="251" y="132">-10</text>
<text x="251" y="235">1018</text><text x="251" y="258">1016</text><text x="251" y="282">1014</text><text x="251" y="305">1012</text>
<text x="251" y="319">72</text><text x="251" y="338">54</text><text x="251" y="358">36</text><text x="251" y="377">18</text><text x="251" y="396">0</text>
</g>
<g font-size="11" fill="#e05020">
<text x="251" y="155">96</text><text x="251" y="172">84</text><text x="251" y="188">73</text><text x="251" y="206">61</text><text x="251" y="223">50</text>
</g>
<g font-size="11" fill="#f08000">
<text x="251" y="440">100</text><text x="251" y="459">20</text><text x="251" y="478">5</text><text x="251" y="498">1</text><text x="251" y="517">0</text>
<text x="251" y="527">1</text><text x="251" y="547">0.75</text><text x="251" y="566">0.5</text><text x="251" y="586">0.25</text><text x="251" y="605">0</text>
</g>
<g font-size="12" fill="#000" text-anchor="middle">
<text x="163" y="52">20</text><text x="204" y="52">02</text><text x="244" y="52">08</text>
<text x="164" y="615">18</text><text x="204" y="615">00</text><text x="246" y="615">06</text>
</g>

<!-- legend text -->
<rect x="9" y="507" width="48" height="11" fill="#88ccf8"/>
<rect x="9" y="551" width="46" height="12" fill="#88ccf8"/>
<g font-size="11">
<text x="5" y="19" fill="#000">Czas lokalny</text>
<text x="5" y="30" fill="#000">(CET/CEST)</text>
<text x="5" y="47" fill="#b02020">Temperatura gruntu</text>
<text x="27" y="57" fill="#b02020">max/min</text>
<text x="5" y="67" fill="#000">Temperatura:</text>
<text x="13" y="81" fill="#ff0000">punkt środkowy</text>
<text x="28" y="91" fill="#f8c8c0">max/min</text>
<text x="10" y="103" fill="#1010e0">odczuwana</text>
<text x="28" y="112" fill="#a0d8f8">max/min</text>
<text x="10" y="124" fill="#6050d0">Temp. punktu rosy</text>
<text x="5" y="141" fill="#ff0000">Opad powyżej skali</text>
<text x="5" y="155" fill="#e05020">Wilgotność względna</text>
<text x="5" y="170" fill="#000">Wystąpienie burzy</text>
<text x="5" y="183" fill="#10a010">Deszcz: max</text>
<text x="48" y="195" fill="#10a010">średni</text>
<text x="5" y="206" fill="#2040d0">Śnieg:</text>
<text x="48" y="206" fill="#2040d0">max</text>
<text x="48" y="217" fill="#2040d0">średni</text>
<text x="5" y="228" fill="#ff0000">Wystąpienie opadu</text>
<text x="5" y="243" fill="#ff0000">konwekcyjnego</text>
<text x="5" y="267" fill="#000">Ciśnienie</text>
<text x="5" y="280" fill="#000">zredukowane</text>
<text x="5" y="293" fill="#000">do poziomu morza</text>
<text x="5" y="322" fill="#000">Wiatr na 10m:</text>
<text x="10" y="338" fill="#ff0000">poryw powyżej skali</text>
<text x="10" y="352" fill="#ff0000">max porywy wiatru</text>
<text x="10" y="372" fill="#1010a0">prędkość wiatru</text>
<text x="10" y="385" fill="#1010a0">w środku obszaru</text>
<text x="10" y="413" fill="#1010a0">kierunek wiatru</text>
<text x="5" y="434" fill="#a02020">Wierzchołek chmur</text>
<text x="5" y="449" fill="#000">Podstawa chmur*</text>
<text x="5" y="460" fill="#000">o pokryciu</text>
<text x="10" y="473" fill="#000">&gt; 7.9 okt.</text>
<text x="10" y="483" fill="#404040">&gt; 6.5 okt.</text>
<text x="10" y="494" fill="#909090">&gt; 4.5 okt.</text>
<text x="10" y="504" fill="#d8d8d8">&gt; 2.5 okt.</text>
<text x="10" y="516" fill="#fff">&gt; 0.1 okt.</text>
<text x="5" y="531" fill="#f08000">Widzialność</text>
<text x="5" y="547" fill="#000">Chmury:</text>
<text x="10" y="561" fill="#fff">wysokie</text>
<text x="10" y="573" fill="#a0a0a0">średnie</text>
<text x="10" y="586" fill="#404040">niskie</text>
<text x="10" y="597" fill="#000">bardzo niskie</text>
<text x="5" y="609" fill="#f0b000">Mgła</text>
</g>
<text x="5" y="627" font-size="12" fill="#000">Czas uniwersalny (UTC)</text>
<text x="5" y="651" font-size="9" font-weight="bold" fill="#000">* powyżej poziomu morza</text>

<!-- leader lines -->
<g fill="none" stroke-width="1">
<path stroke="#000" d="M68,15H133L157,42"/>
<path stroke="#b02020" d="M100,43H120L150,92"/>
<path stroke="#ff0000" d="M91,77H116M132,77H140L156,100"/>
<path stroke="#1010e0" d="M68,99H116M132,99H140L147,103"/>
<path stroke="#6050d0" d="M93,120H116"/>
<path stroke="#ff0000" d="M101,137H146V145"/>
<path stroke="#e05020" d="M105,151H117M132,151L143,163"/>
<path stroke="#000" d="M98,166H113M130,166L137,171"/>
<path stroke="#10a010" d="M69,179H139V176"/>
<path stroke="#10a010" d="M80,191H136"/>
<path stroke="#2040d0" d="M69,202H113M131,202L160,172"/>
<path stroke="#2040d0" d="M80,213H137L163,183"/>
<path stroke="#ff0000" d="M105,224H141"/>
<path stroke="#000" d="M48,263H136"/>
<path stroke="#ff0000" d="M112,334H118"/>
<path stroke="#ff0000" d="M103,348H130L144,340"/>
<path stroke="#1010a0" d="M92,368H133L136,366"/>
<path stroke="#1010a0" d="M84,409H136"/>
<path stroke="#a02020" d="M99,429L136,431L183,448"/>
<path stroke="#000" d="M58,469H136L192,455"/>
<path stroke="#404040" d="M57,479H136L143,482"/>
<path stroke="#909090" d="M57,490H133L137,497"/>
<path stroke="#d0d0d0" d="M57,500H136"/>
<path stroke="#88ccf8" d="M57,511H136"/>
<path stroke="#f08000" d="M67,527H127M133,520L172,463"/>
<path stroke="#88ccf8" d="M55,557H185"/>
<path stroke="#a0a0a0" d="M55,569H193"/>
<path stroke="#404040" d="M37,582H126M136,582H150"/>
<path stroke="#000" d="M72,594H136L150,600"/>
<path stroke="#f0b000" d="M27,605H218V592"/>
<path stroke="#000" d="M137,623H148L156,612"/>
</g>
</svg>
</body></html>
